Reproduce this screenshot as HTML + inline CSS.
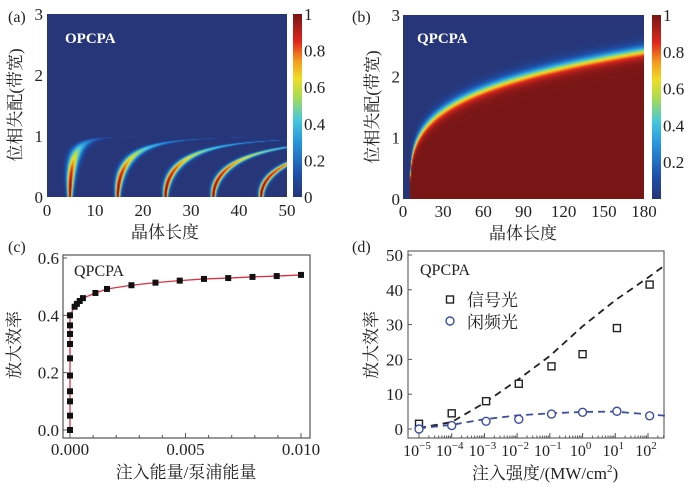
<!DOCTYPE html>
<html><head><meta charset="utf-8">
<style>
body{margin:0;background:#fff;}
#root{position:relative;width:692px;height:489px;overflow:hidden;background:#fff;}
svg text{font-family:"Liberation Serif","Noto Serif CJK SC",serif;}
</style></head>
<body>
<div id="root">
<svg id="svg" width="692" height="489" xmlns="http://www.w3.org/2000/svg"></svg>
</div>
<script>
// ---- Data (c) ----
const cX = [0,0,0,0,0,0,0,0,0,0,0.0002,0.0003,0.00042,0.00056,0.0011,0.0016,0.00266,0.0037,0.00475,0.0058,0.00685,0.0079,0.00895,0.010];
const cY = [0,0.05,0.1,0.135,0.19,0.25,0.3,0.335,0.365,0.4,0.43,0.44,0.45,0.46,0.478,0.492,0.505,0.514,0.521,0.527,0.53,0.534,0.537,0.541];
const cYTicks = [0,0.2,0.4,0.6];
const cYLabels = ["0.0","0.2","0.4","0.6"];
const cXTicks = [0,0.005,0.010];
const cXLabels = ["0.000","0.005","0.010"];
// ---- Data (d) ---- (x in log10)
const dSigX = [-5,-4,-2.95,-1.95,-0.95,0,1.05,2.05];
const dSigY = [1.5,4.5,8,13,18,21.5,29,41.5];
const dIdlX = [-5,-4,-2.95,-1.95,-0.95,0,1.05,2.05];
const dIdlY = [0,1,2.2,2.8,4.3,4.8,5.1,3.8];
const dSigFitX = [-5,-4,-3,-2,-1,0,1,2,2.55];
const dSigFitY = [0.3,2,7.5,14,21,29.5,37,43.5,47.3];
const dIdlFitX = [-5,-4,-3,-2,-1,0,1,2,2.55];
const dIdlFitY = [0.2,1.2,2.8,3.9,4.5,4.9,5.0,4.2,3.8];
const dYTicks = [0,10,20,30,40,50];
const dXTicks = [-5,-4,-3,-2,-1,0,1,2];
// ---- Colorbar ticks ----
const aCbTicks = [0,0.2,0.4,0.6,0.8,1];
const aCbLabels = ["0","0.2","0.4","0.6","0.8","1"];
const bCbTicks = [0.2,0.4,0.6,0.8,1];
const bCbLabels = ["0.2","0.4","0.6","0.8","1"];
const aXTicks = [0,10,20,30,40,50];
const bXTicks = [0,30,60,90,120,150,180];
const yTicks3 = [0,1,2,3];

const NS="http://www.w3.org/2000/svg";
const svg=document.getElementById('svg');
function el(tag,attrs,parent,text){const e=document.createElementNS(NS,tag);for(const k in attrs)e.setAttribute(k,attrs[k]);if(text!==undefined)e.textContent=text;(parent||svg).appendChild(e);return e;}
function txt(x,y,s,size,anchor,name,extra){const t=el('text',Object.assign({x:x,y:y,'font-size':size,'text-anchor':anchor||'start',fill:'#222'},extra||{}),svg,s);

return t;}

const stops=[[0,[39,54,120]],[0.12,[30,80,170]],[0.3,[40,150,220]],[0.42,[70,200,220]],[0.55,[170,220,80]],[0.65,[240,220,40]],[0.75,[245,150,30]],[0.85,[225,40,30]],[1,[120,22,22]]];
function cmap(v){v=Math.max(0,Math.min(1,v));for(let i=1;i<stops.length;i++){if(v<=stops[i][0]){const a=stops[i-1],b=stops[i];const t=(v-a[0])/(b[0]-a[0]);return [0,1,2].map(j=>Math.round(a[1][j]+(b[1][j]-a[1][j])*t));}}return stops[stops.length-1][1];}

function heatmap(x0,y0,w,h,fn,name){
  const c=document.createElement('canvas');c.width=w;c.height=h;const ctx=c.getContext('2d');const im=ctx.createImageData(w,h);
  for(let j=0;j<h;j++)for(let i=0;i<w;i++){const v=fn(i/(w-1),1-j/(h-1));const col=cmap(v);const k=(j*w+i)*4;im.data[k]=col[0];im.data[k+1]=col[1];im.data[k+2]=col[2];im.data[k+3]=255;}
  ctx.putImageData(im,0,0);
  const img=el('image',{x:x0,y:y0,width:w,height:h,href:c.toDataURL()});
  
  
}
function colorbar(x0,y0,w,h,name){
  const c=document.createElement('canvas');c.width=w;c.height=h;const ctx=c.getContext('2d');
  for(let j=0;j<h;j++){const col=cmap(1-j/(h-1));ctx.fillStyle='rgb('+col.join(',')+')';ctx.fillRect(0,j,w,1);}
  const img=el('image',{x:x0,y:y0,width:w,height:h,href:c.toDataURL()});
  
  
}

// ===== Panel (a) =====
(function(){
  const X0=47,X1=287,Y0=14,Y1=197;
  const sx=v=>X0+(v/50)*(X1-X0), sy=v=>Y1-(v/3)*(Y1-Y0);
  heatmap(X0,Y0,X1-X0,Y1-Y0,(u,vv)=>{
    const x=u*50,y=vv*3; if(y>=0.99)return 0;
    const f=Math.pow(1-y*y,-0.34);let s=0;
    for(let n=0;n<5;n++){const xc=(4.7+10*n)*f;const w=0.5*(1+2*y);const amp=Math.pow(Math.max(0,1-y*y),0.8);s=Math.max(s,amp*Math.exp(-Math.pow((x-xc)/w,2)));}
    return s;},'heatmap-opcpa');
  colorbar(293,Y0,9,Y1-Y0,'colorbar-a');
  aCbTicks.forEach((t,i)=>txt(304,Y1-t*(Y1-Y0)+6,aCbLabels[i],17,'start','colorbar-a-tick'));
  yTicks3.forEach(t=>txt(43,sy(t)+6,String(t),17,'end','y-tick-a'));
  aXTicks.forEach(t=>txt(sx(t),216,String(t),17,'middle','x-tick-a'));
  txt(8,22,'(a)',16,'start','panel-label-a');
  txt(65,43,'OPCPA',15,'start','opcpa-label',{fill:'#fff','font-weight':'bold'});
  txt(165,238,'晶体长度',17,'middle','x-axis-title-a');
  txt(0,0,'位相失配(带宽)',17,'middle','y-axis-title-a',{transform:'translate(21,105) rotate(-90)'});
})();

// ===== Panel (b) =====
(function(){
  const X0=403,X1=644,Y0=15,Y1=199;
  const sx=v=>X0+(v/180)*(X1-X0), sy=v=>Y1-(v/3)*(Y1-Y0);
  heatmap(X0,Y0,X1-X0,Y1-Y0,(u,vv)=>{
    const x=u*180,y=vv*3; if(x<5)return 0;
    const yb=Math.pow((x-5)/6,1/3.8);
    return 1/(1+Math.exp((y-yb)/0.055));},'heatmap-qpcpa');
  colorbar(652,Y0,9,Y1-Y0,'colorbar-b');
  bCbTicks.forEach((t,i)=>txt(663,Y1-t*(Y1-Y0)+6,bCbLabels[i],17,'start','colorbar-b-tick'));
  yTicks3.forEach(t=>txt(400,sy(t)+6,String(t),17,'end','y-tick-b'));
  bXTicks.forEach(t=>txt(sx(t),217,String(t),17,'middle','x-tick-b'));
  txt(352,22,'(b)',16,'start','panel-label-b');
  txt(417,43,'QPCPA',15,'start','qpcpa-label-b',{fill:'#fff','font-weight':'bold'});
  txt(523,239,'晶体长度',17,'middle','x-axis-title-b');
  txt(0,0,'位相失配(带宽)',17,'middle','y-axis-title-b',{transform:'translate(378,107) rotate(-90)'});
})();

// ===== Panel (c) =====
(function(){
  const BX0=63,BX1=310,BY0=255,BY1=438;
  const sx=v=>70+(v/0.010)*(301-70), sy=v=>430-(v/0.6)*(430-258);
  const r=el('rect',{x:BX0,y:BY0,width:BX1-BX0,height:BY1-BY0,fill:'none',stroke:'#555','stroke-width':1.2});
  
  
  for(let k=0;k<=10;k++){const l=el('line',{x1:sx(k*0.001),x2:sx(k*0.001),y1:BY1,y2:BY1-(k%5==0?5:3),stroke:'#555'});}
  cYTicks.forEach((t,i)=>{const l=el('line',{x1:BX0,x2:BX0+4,y1:sy(t),y2:sy(t),stroke:'#555'});
    txt(59,sy(t)+6,cYLabels[i],17,'end','y-tick-c');});
  cXTicks.forEach((t,i)=>txt(sx(t),455,cXLabels[i],17,'middle','x-tick-c'));
  const p=el('polyline',{points:cX.map((x,i)=>sx(x)+','+sy(cY[i])).join(' '),fill:'none',stroke:'#e03040','stroke-width':1.3});
  
  
  cX.forEach((x,i)=>{const s=el('rect',{x:sx(x)-3,y:sy(cY[i])-3,width:6,height:6,fill:'#111'});
    
    });
  txt(8,252,'(c)',16,'start','panel-label-c');
  txt(74,276,'QPCPA',16,'start','qpcpa-label-c');
  txt(186,478,'注入能量/泵浦能量',17,'middle','x-axis-title-c');
  txt(0,0,'放大效率',17,'middle','y-axis-title-c',{transform:'translate(20,345) rotate(-90)'});
})();

// ===== Panel (d) =====
(function(){
  const BX0=408,BX1=664,BY0=251,BY1=438;
  const sx=v=>419+(v+5)*((648-419)/7), sy=v=>429-(v/50)*(429-255);
  const r=el('rect',{x:BX0,y:BY0,width:BX1-BX0,height:BY1-BY0,fill:'none',stroke:'#666','stroke-width':1.2});
  
  
  for(let d=-5;d<=2;d++){for(let m=1;m<=9;m++){const xv=d+Math.log10(m);const X=sx(xv);if(X>BX1)continue;
    const l=el('line',{x1:X,x2:X,y1:BY1,y2:BY1-(m==1?5:2.5),stroke:'#555'});}}
  dYTicks.forEach(t=>{const l=el('line',{x1:BX0,x2:BX0+4,y1:sy(t),y2:sy(t),stroke:'#555'});
    txt(403,sy(t)+6,String(t),17,'end','y-tick-d');});
  dXTicks.forEach(t=>{const g=txt(sx(t)-2,456,'10',16,'middle','x-tick-d');
    el('tspan',{dy:-7,'font-size':11},g,String(t).replace('-','−'));});
  const fs=el('polyline',{points:dSigFitX.map((x,i)=>sx(x)+','+sy(dSigFitY[i])).join(' '),fill:'none',stroke:'#222','stroke-width':1.8,'stroke-dasharray':'7,5'});
  
  
  const fi=el('polyline',{points:dIdlFitX.map((x,i)=>sx(x)+','+sy(dIdlFitY[i])).join(' '),fill:'none',stroke:'#3a4ea0','stroke-width':1.8,'stroke-dasharray':'7,5'});
  
  
  dSigX.forEach((x,i)=>{const s=el('rect',{x:sx(x)-3.5,y:sy(dSigY[i])-3.5,width:7,height:7,fill:'#fff',stroke:'#222','stroke-width':1.4});
    
    });
  dIdlX.forEach((x,i)=>{const s=el('circle',{cx:sx(x),cy:sy(dIdlY[i]),r:4,fill:'#fff',stroke:'#3a4ea0','stroke-width':1.4});
    
    });
  txt(352,252,'(d)',16,'start','panel-label-d');
  txt(420,275,'QPCPA',16,'start','qpcpa-label-d');
  const ls=el('rect',{x:446.5,y:296,width:7,height:7,fill:'#fff',stroke:'#222','stroke-width':1.4});
  
  
  txt(467,306,'信号光',17,'start','legend-signal-label');
  const li=el('circle',{cx:450,cy:321,r:4,fill:'#fff',stroke:'#3a4ea0','stroke-width':1.4});
  
  
  txt(467,328,'闲频光',17,'start','legend-idler-label');
  const tt=txt(545,479,'注入强度/(MW/cm',17,'middle','x-axis-title-d');
  el('tspan',{dy:-7,'font-size':11},tt,'2');
  el('tspan',{dy:7},tt,')');
  txt(0,0,'放大效率',17,'middle','y-axis-title-d',{transform:'translate(377,345) rotate(-90)'});
})();
</script>
</body></html>
